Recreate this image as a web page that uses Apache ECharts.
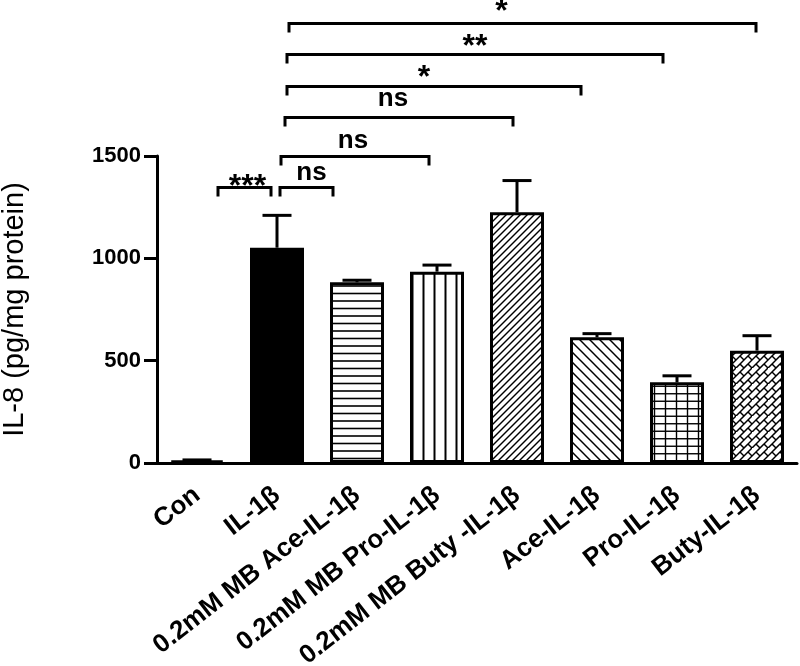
<!DOCTYPE html>
<html><head><meta charset="utf-8">
<script src="https://cdn.jsdelivr.net/npm/echarts@6/dist/echarts.min.js"></script>
<style>html,body{margin:0;padding:0;background:#fff}#c{width:800px;height:666px}</style>
</head><body><div id="c"></div>
<script>
// ---- data ----
const categories = ['Con', 'IL-1β', '0.2mM MB Ace-IL-1β', '0.2mM MB Pro-IL-1β', '0.2mM MB Buty -IL-1β', 'Ace-IL-1β', 'Pro-IL-1β', 'Buty-IL-1β'];
const means = [12, 1052, 883, 935, 1225, 614, 394, 549];
const errors = [3, 158, 10, 32, 155, 18, 32, 73];
const yTicks = [0, 500, 1000, 1500];
// significance comparisons
const compFrom = [1, 1, 1, 1, 1, 1, 0];
const compTo = [7, 6, 5, 4, 3, 2, 1];
const compLevel = [2150, 2000, 1840, 1690, 1500, 1350, 1350];
const compLabel = ['*', '**', '*', 'ns', 'ns', 'ns', '***'];

// ---- styling (pixel tweaks only) ----
const bracketStartOff = [12, 10, 10, 8, 4, 3, 21];
const bracketEndOff = [-1, -14, -16, -4, -8, -24, -6];
const labelDx = [-21, 0, -10, -6, -2, 5, 3];
const labelGap = [18, 14, 15, 16, 13, 12, 7];
const FONT = "'Liberation Sans', Arial, Helvetica, sans-serif";

function makePattern(w, h, draw) {
  const c = document.createElement('canvas');
  c.width = w; c.height = h;
  const g = c.getContext('2d');
  g.fillStyle = '#fff'; g.fillRect(0, 0, w, h);
  g.strokeStyle = '#000'; g.lineCap = 'butt';
  draw(g, w, h);
  return { image: c, repeat: 'repeat' };
}
function line(g, x1, y1, x2, y2, lw) { g.lineWidth = lw; g.beginPath(); g.moveTo(x1, y1); g.lineTo(x2, y2); g.stroke(); }

const patterns = [
  '#000',
  '#000',
  makePattern(4, 15, (g, w) => { line(g, 0, 1, w, 1, 1.6); line(g, 0, 8.5, w, 8.5, 1.6); }),
  makePattern(11, 4, (g, w, h) => { line(g, 5.5, 0, 5.5, h, 2); }),
  makePattern(7, 7, (g, w, h) => { line(g, -1, h + 1, w + 1, -1, 1.4); line(g, -1, 1, 1, -1, 1.4); line(g, w - 1, h + 1, w + 1, h - 1, 1.4); }),
  makePattern(10, 10, (g, w, h) => { line(g, -1, -1, w + 1, h + 1, 1.5); line(g, w - 1, -1, w + 1, 1, 1.5); line(g, -1, h - 1, 1, h + 1, 1.5); }),
  makePattern(11, 15, (g, w, h) => { line(g, 0, 3.75, w, 3.75, 1.4); line(g, 0, 11.25, w, 11.25, 1.4); line(g, 5.5, 0, 5.5, h, 1.4); }),
  makePattern(16, 16, (g, w, h) => {
    const lw = 1.5;
    line(g, -2, 18, 18, -2, lw); line(g, -2, 10, 10, -2, lw); line(g, 6, 18, 18, 6, lw);
    line(g, 4, 4, 8, 8, lw); line(g, 12, 4, 16, 8, lw); line(g, -4, 4, 0, 8, lw);
    line(g, 12, 12, 16, 16, lw); line(g, 4, 12, 8, 16, lw); line(g, 0, 0, -4, -4, lw);
  })
];

const chart = echarts.init(document.getElementById('c'), null, { renderer: 'canvas' });

const barData = means.map((v, i) => ({ value: v, itemStyle: { color: patterns[i] } }));
const errData = means.map((v, i) => [i, v, errors[i]]);
const compData = compFrom.map((f, i) => [f, compTo[i], compLevel[i], i]);

chart.setOption({
  animation: false,
  backgroundColor: '#fff',
  grid: { left: 157, right: 3, top: 156, bottom: 203, containLabel: false, outerBoundsMode: 'none' },
  xAxis: {
    type: 'category',
    data: categories,
    boundaryGap: true,
    axisLine: { lineStyle: { color: '#000', width: 3 } },
    axisTick: { alignWithLabel: true, length: 10, lineStyle: { color: '#000', width: 3 } },
    axisLabel: { rotate: 38, interval: 0, margin: 29, color: '#000', fontSize: 26, fontWeight: 'bold', fontFamily: FONT }
  },
  yAxis: {
    type: 'value',
    min: yTicks[0], max: yTicks[yTicks.length - 1], interval: yTicks[1] - yTicks[0],
    name: 'IL-8 (pg/mg protein)',
    nameLocation: 'middle',
    nameGap: 128,
    nameTextStyle: { color: '#000', fontSize: 29, fontFamily: FONT },
    axisLine: { show: true, lineStyle: { color: '#000', width: 3 } },
    axisTick: { show: true, length: 13, lineStyle: { color: '#000', width: 3 } },
    axisLabel: { margin: 16, color: '#000', fontSize: 22, fontWeight: 'bold', fontFamily: FONT, formatter: v => String(v) },
    splitLine: { show: false }
  },
  series: [
    {
      type: 'bar',
      data: barData,
      barWidth: 54,
      itemStyle: { borderColor: '#000', borderWidth: 3 },
      z: 2
    },
    {
      type: 'custom',
      data: errData,
      encode: { x: 0, y: 1 },
      z: 3,
      renderItem: function (params, api) {
        const i = api.value(0), m = api.value(1), e = api.value(2);
        const p0 = api.coord([i, m]);
        const p1 = api.coord([i, m + e]);
        const hw = 14.5;
        return {
          type: 'group',
          children: [
            { type: 'line', shape: { x1: p0[0], y1: p0[1], x2: p1[0], y2: p1[1] }, style: { stroke: '#000', lineWidth: 3 } },
            { type: 'line', shape: { x1: p1[0] - hw, y1: p1[1], x2: p1[0] + hw, y2: p1[1] }, style: { stroke: '#000', lineWidth: 3 } }
          ]
        };
      }
    },
    {
      type: 'custom',
      data: compData,
      encode: { x: [0, 1], y: 2 },
      clip: false,
      z: 4,
      renderItem: function (params, api) {
        const k = api.value(3);
        const a = api.coord([api.value(0), api.value(2)]);
        const b = api.coord([api.value(1), api.value(2)]);
        const y = Math.round(a[1]) + 0.5;
        const x1 = a[0] + bracketStartOff[k];
        const x2 = b[0] + bracketEndOff[k];
        const lab = compLabel[k];
        const isStar = lab.indexOf('*') >= 0;
        const fs = isStar ? 32 : 26;
        const glyphCenter = y - labelGap[k];
        const yc = isStar ? glyphCenter + 0.205 * fs : glyphCenter - 0.087 * fs;
        return {
          type: 'group',
          children: [
            { type: 'polyline', shape: { points: [[x1, y + 9], [x1, y], [x2, y], [x2, y + 9]] }, style: { stroke: '#000', lineWidth: 3, fill: null } },
            { type: 'text', x: (x1 + x2) / 2 + labelDx[k], y: yc,
              style: { text: lab, fill: '#000', font: 'bold ' + fs + 'px ' + FONT, textAlign: 'center', textVerticalAlign: 'middle' } }
          ]
        };
      }
    }
  ]
});
</script>
</body></html>
